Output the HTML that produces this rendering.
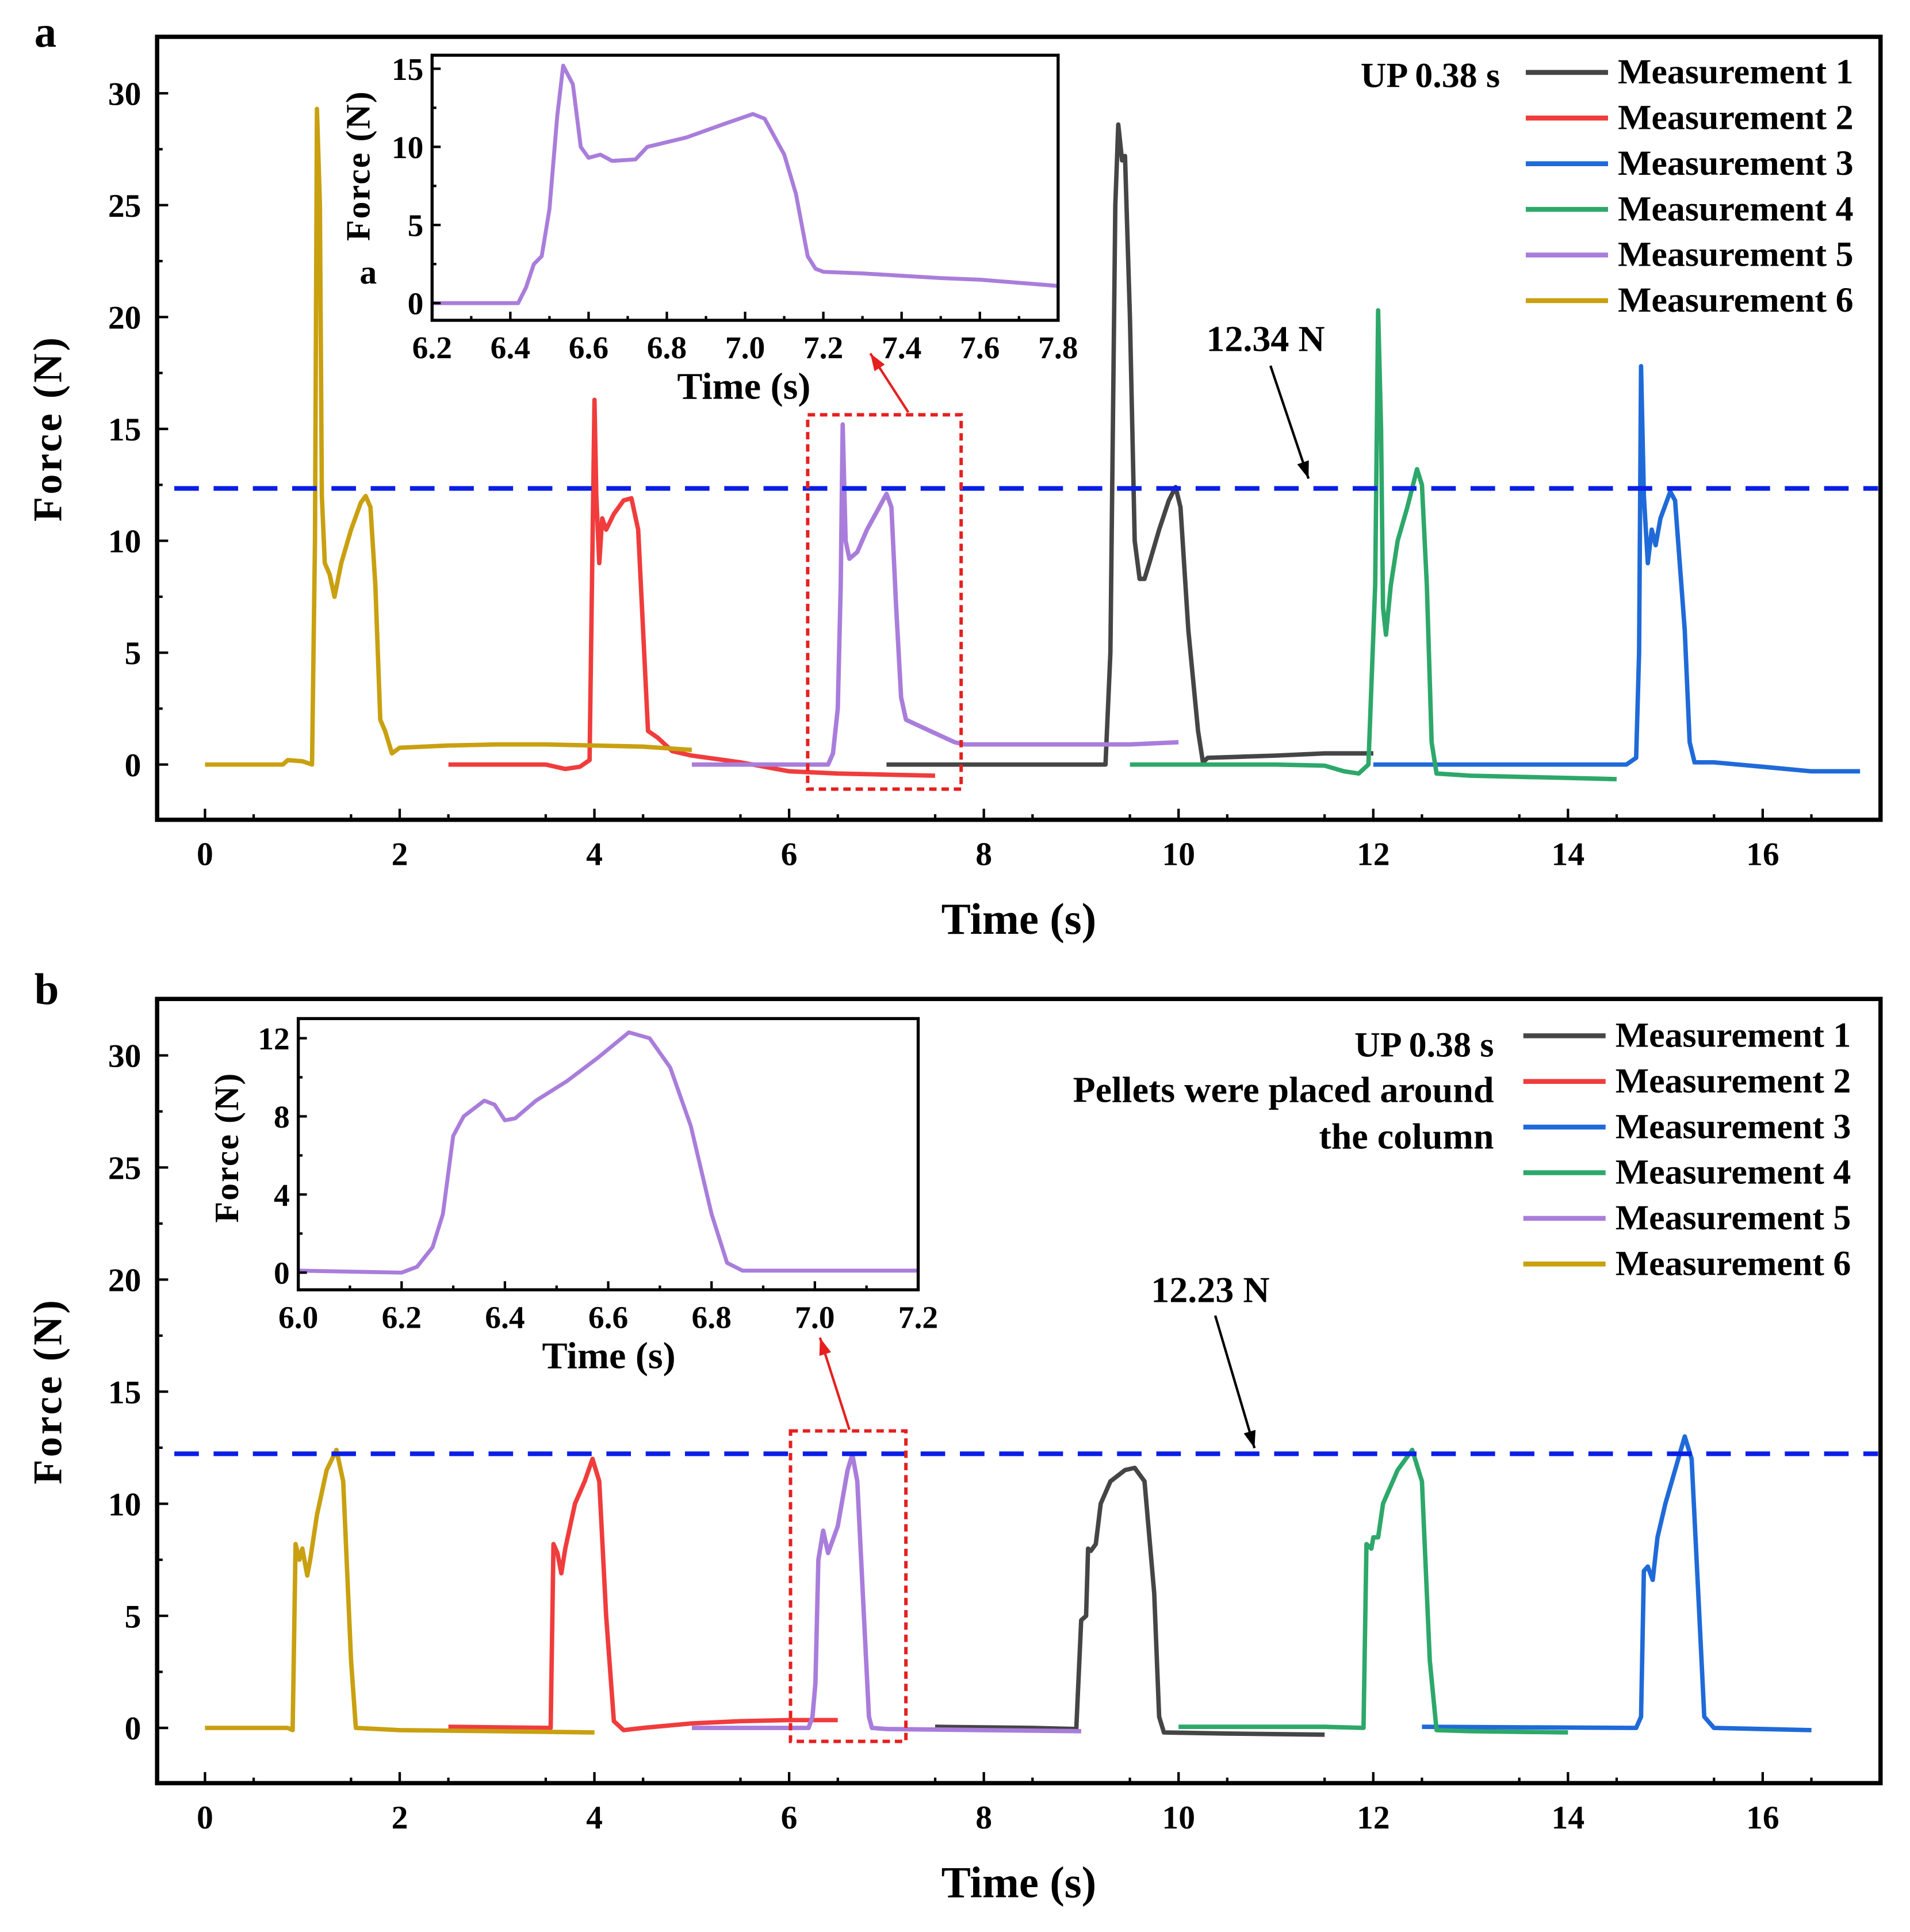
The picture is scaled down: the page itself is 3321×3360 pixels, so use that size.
<!DOCTYPE html>
<html><head><meta charset="utf-8"><style>
html,body{margin:0;padding:0;background:#fff}
svg{display:block}
text{font-family:"Liberation Serif",serif;font-weight:bold;fill:#000}
</style></head><body>
<svg id="fig" xmlns="http://www.w3.org/2000/svg" width="3321" height="3360" viewBox="0 0 1556 1574.3" preserveAspectRatio="none">
<rect width="1556" height="1575" fill="#fff"/>
<g id="root"></g>
</svg>
<script>
// ---- Data ----
const seriesNames = ["Measurement 1","Measurement 2","Measurement 3","Measurement 4","Measurement 5","Measurement 6"];
const seriesColors = ["#454545","#f03c3c","#1f6ad8","#2da86a","#a97ddb","#c9a010"];
const xTicksMain = [0,2,4,6,8,10,12,14,16];
const yTicksMain = [0,5,10,15,20,25,30];
const xTicksInsetA = [6.2,6.4,6.6,6.8,7.0,7.2,7.4,7.6,7.8];
const yTicksInsetA = [0,5,10,15];
const xTicksInsetB = [6.0,6.2,6.4,6.6,6.8,7.0,7.2];
const yTicksInsetB = [0,4,8,12];
const thresholdA = 12.34;
const thresholdB = 12.23;

// Panel a
const a1_t=[7.0,9.25,9.3,9.35,9.38,9.42,9.45,9.5,9.55,9.6,9.65,9.7,9.8,9.9,9.97,10.02,10.1,10.2,10.25,10.3,11.0,11.5,12.0];
const a1_f=[0,0,5,25,28.6,27,27.2,20,10,8.3,8.3,9,10.5,11.8,12.4,11.5,6,1.5,0.1,0.3,0.4,0.5,0.5];
const a2_t=[2.5,3.5,3.7,3.85,3.95,4.0,4.02,4.05,4.08,4.12,4.2,4.3,4.38,4.45,4.5,4.55,4.65,4.8,5.0,5.5,6.0,6.5,7.0,7.5];
const a2_f=[0,0,-0.2,-0.1,0.2,16.3,12,9,11,10.5,11.2,11.8,11.9,10.5,6,1.5,1.2,0.6,0.4,0.1,-0.3,-0.4,-0.45,-0.5];
const a3_t=[12.0,14.6,14.7,14.73,14.75,14.78,14.82,14.86,14.9,14.95,15.05,15.1,15.2,15.25,15.3,15.5,16.0,16.5,17.0];
const a3_f=[0,0,0.3,5,17.8,12,9,10.5,9.8,11,12.2,11.8,6,1,0.1,0.1,-0.1,-0.3,-0.3];
const a4_t=[9.5,11.0,11.5,11.7,11.85,11.95,12.02,12.05,12.08,12.1,12.13,12.18,12.25,12.35,12.45,12.5,12.55,12.6,12.65,13.0,14.0,14.5];
const a4_f=[0,0,-0.05,-0.3,-0.4,0,8,20.3,15,7,5.8,8,10,11.5,13.2,12.5,8,1,-0.4,-0.5,-0.6,-0.65];
const a5_t=[5.0,6.4,6.45,6.5,6.53,6.55,6.58,6.62,6.7,6.8,6.9,7.0,7.05,7.1,7.15,7.2,7.3,7.5,7.7,7.8,8.5,9.5,10.0];
const a5_f=[0,0,0.5,2.5,8,15.2,10,9.2,9.5,10.5,11.3,12.1,11.5,7,3,2,1.8,1.4,1,0.9,0.9,0.9,1.0];
const a6_t=[0,0.8,0.85,1.0,1.1,1.13,1.15,1.18,1.2,1.23,1.28,1.33,1.4,1.5,1.6,1.65,1.7,1.75,1.8,1.85,1.92,2.0,2.5,3.0,3.5,4.0,4.5,5.0];
const a6_f=[0,0,0.2,0.15,0,10,29.3,25,12,9,8.5,7.5,9,10.5,11.7,12,11.5,8,2,1.5,0.5,0.75,0.85,0.9,0.9,0.85,0.8,0.65];
const ia_t=[6.2,6.42,6.44,6.46,6.48,6.5,6.52,6.535,6.56,6.58,6.6,6.63,6.66,6.72,6.75,6.85,6.95,7.02,7.05,7.1,7.13,7.16,7.18,7.2,7.3,7.5,7.6,7.8];
const ia_f=[0,0,1,2.5,3,6,12,15.2,14,10,9.3,9.5,9.1,9.2,10,10.6,11.5,12.1,11.8,9.5,7,3,2.2,2.0,1.9,1.6,1.5,1.1];

// Panel b
const b1_t=[7.5,8.5,8.95,9.0,9.05,9.07,9.1,9.15,9.2,9.3,9.45,9.55,9.65,9.75,9.8,9.85,10.5,11.5];
const b1_f=[0.05,0,-0.05,4.8,5,8,7.9,8.2,10,11,11.5,11.6,11,6,0.5,-0.2,-0.25,-0.3];
const b2_t=[2.5,3.55,3.58,3.62,3.66,3.7,3.8,3.9,3.98,4.05,4.12,4.2,4.3,4.5,5.0,5.5,6.0,6.5];
const b2_f=[0.05,0,8.2,7.8,6.9,8,10,11,12,11,5,0.3,-0.1,0,0.2,0.3,0.35,0.35];
const b3_t=[12.5,14.7,14.75,14.78,14.82,14.87,14.92,15.0,15.1,15.2,15.27,15.35,15.4,15.5,16.0,16.5];
const b3_f=[0.05,0,0.5,7,7.2,6.6,8.5,10,11.5,13,12,5,0.5,0,-0.05,-0.1];
const b4_t=[10.0,11.5,11.9,11.93,11.98,12.0,12.05,12.1,12.25,12.4,12.5,12.58,12.65,13.0,14.0];
const b4_f=[0.05,0.05,0,8.2,8,8.5,8.5,10,11.5,12.4,11,3,-0.1,-0.15,-0.2];
const b5_t=[5.0,6.2,6.24,6.27,6.3,6.35,6.4,6.5,6.6,6.65,6.7,6.78,6.82,6.85,7.0,8.0,9.0];
const b5_f=[0,0,0.5,2,7.5,8.8,7.8,9,11.5,12.2,11,4,0.5,0,-0.05,-0.1,-0.15];
const b6_t=[0,0.85,0.9,0.93,0.97,1.0,1.05,1.08,1.15,1.25,1.35,1.42,1.5,1.55,2.0,3.0,4.0];
const b6_f=[0,0,-0.1,8.2,7.5,8,6.8,7.5,9.5,11.5,12.4,11,3,0,-0.1,-0.15,-0.2];
const ib_t=[6.0,6.2,6.23,6.26,6.28,6.3,6.32,6.36,6.38,6.4,6.42,6.46,6.52,6.58,6.64,6.68,6.72,6.76,6.8,6.83,6.86,7.2];
const ib_f=[0.1,0,0.3,1.3,3,7,8,8.8,8.6,7.8,7.9,8.8,9.8,11,12.3,12,10.5,7.5,3,0.5,0.1,0.1];

const NS="http://www.w3.org/2000/svg";
const root=document.getElementById('root');
function mk(tag,attrs,parent,txt){const e=document.createElementNS(NS,tag);for(const k in attrs)e.setAttribute(k,attrs[k]);if(txt!==undefined)e.textContent=txt;(parent||root).appendChild(e);return e;}
function lin(d0,d1,p0,p1){return v=>p0+(v-d0)*(p1-p0)/(d1-d0);}

function axes(g,name,fx,fy,box,xt,yt,xminor,yminor,fs,xfmt,xoff,ygap){
  const frame=mk('rect',{x:box[0],y:box[1],width:box[2]-box[0],height:box[3]-box[1],fill:'none',stroke:'#000','stroke-width':box[4]},g);
  
  
  const tl=box[5];
  xt.forEach(v=>{const x=fx(v);mk('line',{x1:x,y1:box[3],x2:x,y2:box[3]-tl,stroke:'#000','stroke-width':2},g);
    const t=mk('text',{x:x,y:box[3]+xoff,'font-size':fs,'text-anchor':'middle'},g,xfmt(v));
    
    });
  xminor.forEach(v=>{const x=fx(v);mk('line',{x1:x,y1:box[3],x2:x,y2:box[3]-tl/2,stroke:'#000','stroke-width':2},g);});
  yt.forEach(v=>{const y=fy(v);mk('line',{x1:box[0],y1:y,x2:box[0]+tl,y2:y,stroke:'#000','stroke-width':2},g);
    const t=mk('text',{x:box[0]-ygap,y:y+fs*0.35,'font-size':fs,'text-anchor':'end'},g,String(v));
    
    });
  yminor.forEach(v=>{const y=fy(v);mk('line',{x1:box[0],y1:y,x2:box[0]+tl/2,y2:y,stroke:'#000','stroke-width':2},g);});
}
function curve(g,ts,fs_,fx,fy,color,w,name){
  let d='';ts.forEach((t,i)=>{d+=(i?'L':'M')+fx(t).toFixed(1)+','+fy(fs_[i]).toFixed(1);});
  const p=mk('path',{d:d,fill:'none',stroke:color,'stroke-width':w,'stroke-linejoin':'round'},g);
  
  
}
function range(a,b,s){const r=[];for(let v=a;v<=b+1e-9;v+=s)r.push(+v.toFixed(3));return r;}

function panel(cfg){
  const g=mk('g',{});
  
  
  const fx=lin(0,16,167,1436), fy=lin(0,30,cfg.y0,cfg.y30);
  const box=[128,cfg.top,1532,cfg.bot,3.5,9];
  const xminor=range(-0.5,17,1).filter(v=>v%2!==0);
  const yminor=range(-2.5,32,2.5).filter(v=>v%5!==0 && fy(v)>cfg.top && fy(v)<cfg.bot);
  axes(g,'main-'+cfg.id,fx,fy,box,xTicksMain,yTicksMain,xminor,yminor,27,v=>String(v),37,13);
  const pl=mk('text',{x:28,y:cfg.lab,'font-size':36},g,cfg.id);
  
  
  const yt=mk('text',{x:0,y:0,'font-size':33,'text-anchor':'middle','letter-spacing':'2',transform:`translate(50,${(cfg.top+cfg.bot)/2}) rotate(-90)`},g,'Force (N)');
  
  
  const xt=mk('text',{x:830,y:cfg.bot+93,'font-size':36,'text-anchor':'middle'},g,'Time (s)');
  
  
  cfg.series.forEach((s,i)=>curve(g,s[0],s[1],fx,fy,seriesColors[i],3.6,'series-'+cfg.id+'-m'+(i+1)));
  const yth=fy(cfg.th);
  const dl=mk('line',{x1:142,y1:yth,x2:1530,y2:yth,stroke:'#0a1ee6','stroke-width':3.8,'stroke-dasharray':'20,12'},g);
  
  
  const tt=mk('text',{x:cfg.thLab[0],y:cfg.thLab[1],'font-size':30,'text-anchor':'middle'},g,cfg.th.toFixed(2)+' N');
  
  
  arrow(g,cfg.arr,'#000','threshold-arrow');
  const rb=mk('rect',{x:cfg.rbox[0],y:cfg.rbox[1],width:cfg.rbox[2]-cfg.rbox[0],height:cfg.rbox[3]-cfg.rbox[1],fill:'none',stroke:'#e52020','stroke-width':2.8,'stroke-dasharray':'6,4'},g);
  
  
  arrow(g,cfg.rarr,'#e52020','zoom-arrow');
  seriesNames.forEach((n,i)=>{const y=cfg.legY+i*37.2;
    const l=mk('line',{x1:cfg.legX,y1:y,x2:cfg.legX+67,y2:y,stroke:seriesColors[i],'stroke-width':4},g);
    
    
    const t=mk('text',{x:cfg.legX+75,y:y+9,'font-size':29},g,n);
    
    });
  cfg.notes.forEach((n,i)=>{const t=mk('text',{x:cfg.noteX,y:n[1],'font-size':n[2],'text-anchor':'end'},g,n[0]);
    
    });
  const ig=mk('g',{},g);
  
  
  const I=cfg.inset;
  const ifx=lin(I.xd[0],I.xd[1],I.xp[0],I.xp[1]), ify=lin(I.yd[0],I.yd[1],I.yp[0],I.yp[1]);
  curve(ig,I.t,I.f,ifx,ify,seriesColors[4],3.2,'inset-curve-'+cfg.id);
  const ixm=[];for(let i=0;i<I.xt.length-1;i++)ixm.push((I.xt[i]+I.xt[i+1])/2);
  const iym=[];for(let i=0;i<I.yt.length-1;i++)iym.push((I.yt[i]+I.yt[i+1])/2);
  axes(ig,'inset-'+cfg.id,ifx,ify,[I.box[0],I.box[1],I.box[2],I.box[3],2.5,7],I.xt,I.yt,ixm,iym,26,v=>v.toFixed(1),31,7);
  const ixt=mk('text',{x:I.xtX,y:I.box[3]+64,'font-size':31,'text-anchor':'middle'},ig,'Time (s)');
  
  
  const iyt=mk('text',{x:0,y:0,'font-size':28,'text-anchor':'middle','letter-spacing':'1',transform:`translate(${I.yTitleX},${I.yTitleY}) rotate(-90)`},ig,'Force (N)');
  
  
  if(I.extra){const e=mk('text',{x:I.extra[0],y:I.extra[1],'font-size':28},ig,'a');
    
    }
}
function arrow(g,a,c,name){
  const [x1,y1,x2,y2]=a;
  const l=mk('line',{x1:x1,y1:y1,x2:x2,y2:y2,stroke:c,'stroke-width':2},g);
  
  
  const ang=Math.atan2(y2-y1,x2-x1),L=14,W=5;
  const bx=x2-L*Math.cos(ang),by=y2-L*Math.sin(ang);
  const px=-Math.sin(ang)*W,py=Math.cos(ang)*W;
  mk('polygon',{points:`${x2},${y2} ${bx+px},${by+py} ${bx-px},${by-py}`,fill:c},g);
}

panel({id:'a',top:30,bot:668,y0:623,y30:76,lab:38,th:thresholdA,thLab:[1031,286],arr:[1035,298,1066,390],
  rbox:[658,338,783,643],rarr:[740,336,709,288],legX:1243,legY:59,noteX:1222,notes:[['UP  0.38 s',71,29]],
  series:[[a1_t,a1_f],[a2_t,a2_f],[a3_t,a3_f],[a4_t,a4_f],[a5_t,a5_f],[a6_t,a6_f]],
  inset:{box:[352,45,862,261],xd:[6.2,7.8],xp:[352,862],yd:[0,15],yp:[247,56],t:ia_t,f:ia_f,xt:xTicksInsetA,yt:yTicksInsetA,
    xtX:606,yTitleX:301,yTitleY:135,extra:[293,231]}});
panel({id:'b',top:814,bot:1453,y0:1408,y30:860,lab:818,th:thresholdB,thLab:[986,1061],arr:[990,1072,1022,1180],
  rbox:[644,1166,738,1419],rarr:[692,1165,668,1090],legX:1241,legY:844,noteX:1217,notes:[['UP  0.38 s',861,29],['Pellets were placed around',898,30],['the column',936,30]],
  series:[[b1_t,b1_f],[b2_t,b2_f],[b3_t,b3_f],[b4_t,b4_f],[b5_t,b5_f],[b6_t,b6_f]],
  inset:{box:[243,830,748,1051],xd:[6.0,7.2],xp:[243,748],yd:[0,12],yp:[1037,846],t:ib_t,f:ib_f,xt:xTicksInsetB,yt:yTicksInsetB,
    xtX:496,yTitleX:194,yTitleY:935}});
</script>
</body></html>
